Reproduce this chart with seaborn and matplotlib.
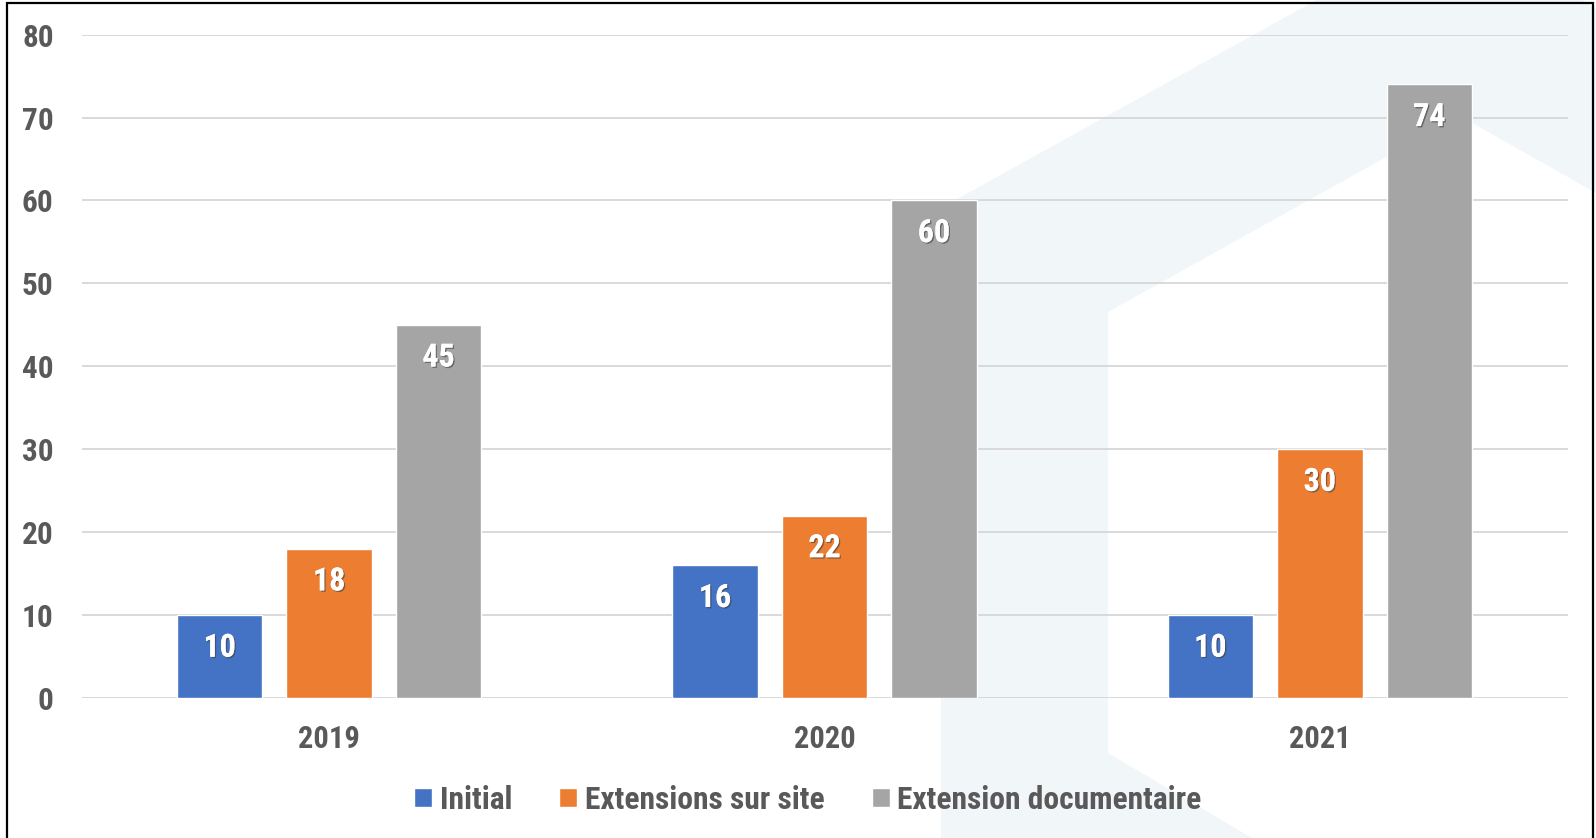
import numpy as np
import pandas as pd
import matplotlib.pyplot as plt
import matplotlib.patheffects as pe
from matplotlib.patches import Polygon, Rectangle
from matplotlib import font_manager
import seaborn as sns

years = ["2019", "2020", "2021"]
series = ["Initial", "Extensions sur site", "Extension documentaire"]
initial = [10, 16, 10]
sur_site = [18, 22, 30]
documentaire = [45, 60, 74]
colors = ["#4472C4", "#ED7D31", "#A5A5A5"]
yticks = [0, 10, 20, 30, 40, 50, 60, 70, 80]

df = pd.DataFrame({
    "annee": years * 3,
    "type": np.repeat(series, len(years)),
    "nombre": initial + sur_site + documentaire,
})

# pick a narrow bold face close to Arial Narrow
installed = {f.name for f in font_manager.fontManager.ttflist}
narrow = "DejaVu Sans"
for cand in ["Liberation Sans Narrow", "Arial Narrow", "Roboto Condensed",
             "Archivo Narrow", "PT Sans Narrow", "Asap Condensed"]:
    if cand in installed:
        narrow = cand
        break

sns.set_style("white")
plt.rcParams["font.family"] = [narrow, "DejaVu Sans"]
plt.rcParams["font.weight"] = "bold"
if narrow == "DejaVu Sans":
    plt.rcParams["font.stretch"] = "condensed"
txtcol = "#595959"

W, H = 1596, 838
fig = plt.figure(figsize=(W / 100, H / 100), dpi=100)

# faint house-shaped watermark behind the chart (pixel coords, top-left origin)
wm = [(941, 838), (941, 208), (1450, -74), (1596, 8), (1596, 193),
      (1460, 116), (1108, 312), (1108, 753), (1252, 838)]
fig.patches.append(Polygon([(x / W, 1 - y / H) for x, y in wm], closed=True,
                           transform=fig.transFigure, facecolor="#F1F6F9",
                           edgecolor="none", zorder=-2))
# black frame
fig.patches.append(Rectangle((7 / W, -0.05), 1 - 10 / W, 1.05 - 3 / H, transform=fig.transFigure,
                             facecolor="none", edgecolor="black", linewidth=1.6, zorder=5))

ax = fig.add_axes([81.5 / W, 1 - 698 / H, 1486 / W, 663.4 / H])
ax.set_facecolor("none")

sns.barplot(data=df, x="annee", y="nombre", hue="type", palette=colors,
            width=0.663, gap=0.22, saturation=1, ax=ax, zorder=3)

ax.set_ylim(0, 80)
ax.set_yticks(yticks)
ax.set_xlabel("")
ax.set_ylabel("")
ax.grid(axis="y", color="#D9D9D9", linewidth=1.4, zorder=0)
ax.set_axisbelow(True)
sns.despine(ax=ax, left=True, bottom=True)
ax.tick_params(axis="y", length=0, pad=20, labelsize=22.5, labelcolor=txtcol)
ax.tick_params(axis="x", length=0, pad=19, labelsize=22, labelcolor=txtcol)

shadow = [pe.withSimplePatchShadow(offset=(1, -1), shadow_rgbFace="#404040", alpha=0.6), pe.Normal()]
for cont in ax.containers:
    for bar in cont:
        h = bar.get_height()
        ax.annotate("{:.0f}".format(h), (bar.get_x() + bar.get_width() / 2, h),
                    xytext=(0, -30), textcoords="offset points", ha="center", va="baseline",
                    fontsize=23, color="white", fontweight="bold", path_effects=shadow, zorder=5)

handles, labels = ax.get_legend_handles_labels()
ax.get_legend().remove()
fig.legend(handles, labels, loc="center", bbox_to_anchor=(808 / W, 1 - 800 / H), ncol=3,
           frameon=False, fontsize=22.7, handlelength=0.56, handleheight=0.56,
           handletextpad=0.25, columnspacing=1.5, labelcolor=txtcol)

fig.savefig("out.png", dpi=100)
